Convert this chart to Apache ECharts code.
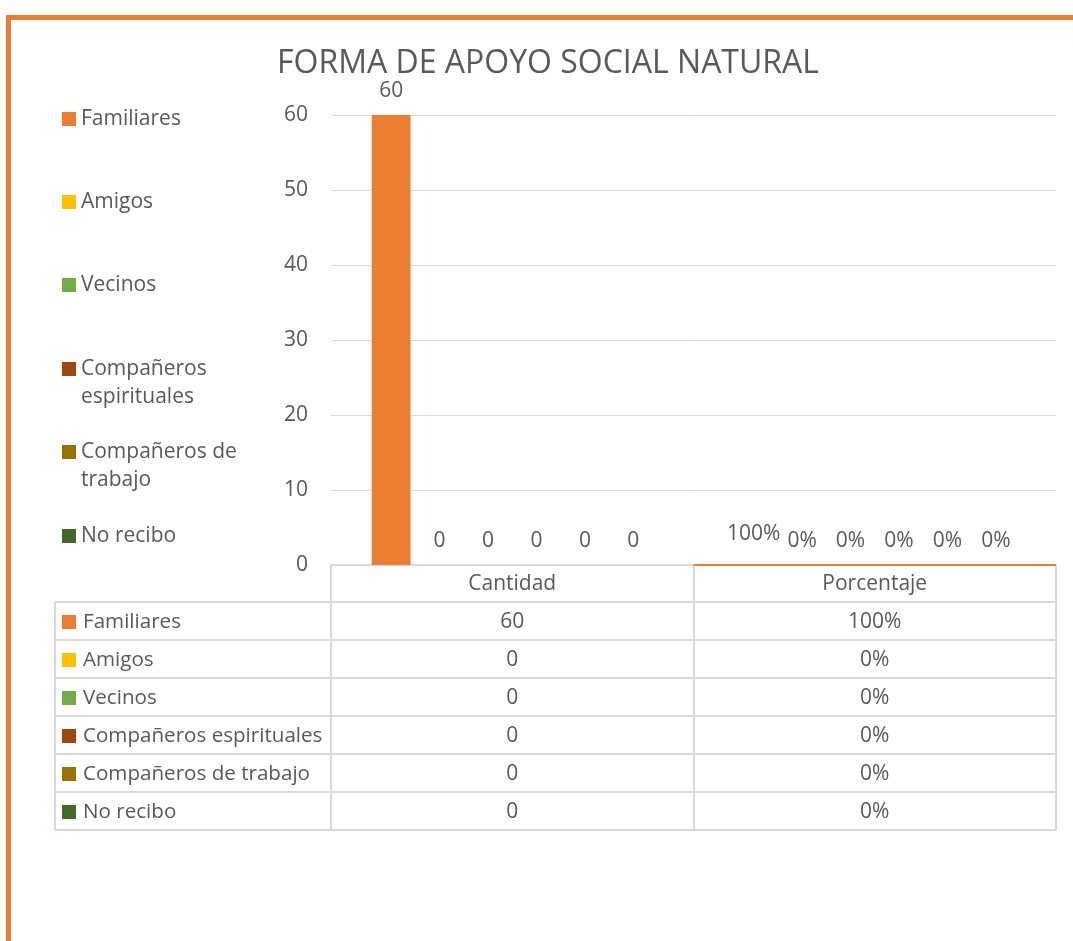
<!DOCTYPE html>
<html>
<head>
<meta charset="utf-8">
<script src="https://cdn.jsdelivr.net/npm/echarts@6/dist/echarts.min.js"></script>
<style>
html,body{margin:0;padding:0;background:#fff;}
#chart{width:1073px;height:941px;}
</style>
</head>
<body>
<div id="chart"></div>
<script>
// ---- data ----
const titleText = 'FORMA DE APOYO SOCIAL NATURAL';
const categories = ['Cantidad', 'Porcentaje'];
const seriesNames = ['Familiares', 'Amigos', 'Vecinos', 'Compañeros espirituales', 'Compañeros de trabajo', 'No recibo'];
const cantidad = [60, 0, 0, 0, 0, 0];
const porcentaje = [1, 0, 0, 0, 0, 0];
const yMin = 0, yMax = 60, yInterval = 10;

// ---- style ----
const colors = ['#ED7D31', '#FFC000', '#70AD47', '#9E480E', '#997300', '#43682B'];
const textColor = '#595959';
const gridLineColor = '#D9D9D9';
const FONT = 'Open Sans';
const FS = 21;

const W = 1073, H = 941;
const gridLeft = 331, gridRight = 1056, gridTop = 115, gridBottom = 565;
const headerH = 37, rowH = 38, tableLeft = 55;

const fmtPct = v => Math.round(v * 100) + '%';

const chart = echarts.init(document.getElementById('chart'), null, {renderer: 'canvas'});

// icon for two-line legend entries: square aligned with the first text line
const topSquareIcon = 'path://M0,0H14V14H0Z M0,41.95H0.05V42H0Z';

const legendTops = [119, 202, 285, 383, 466, 536];
const legends = seriesNames.map((n, i) => {
  const two = i === 3 || i === 4;
  return {
    data: [n],
    orient: 'vertical',
    left: 62,
    top: legendTops[i] - (two ? 28 : 14),
    padding: 0,
    icon: two ? topSquareIcon : 'rect',
    itemWidth: 14,
    itemHeight: two ? 42 : 14,
    selectedMode: false,
    textStyle: {fontFamily: FONT, fontSize: FS, color: textColor, lineHeight: 28, width: 180, overflow: 'break'}
  };
});

const series = seriesNames.map((n, i) => ({
  name: n,
  type: 'bar',
  barGap: '25%',
  barCategoryGap: '22.5%',
  itemStyle: {color: colors[i]},
  data: [
    cantidad[i],
    // the 100% bar is not visible in the reference (only its label)
    (i === 0 ? {value: porcentaje[i], itemStyle: {color: 'rgba(0,0,0,0)'}} : porcentaje[i])
  ],
  label: {
    show: true,
    position: 'top',
    distance: 13,
    fontFamily: FONT,
    fontSize: FS,
    color: textColor,
    formatter: p => p.dataIndex === 1 ? fmtPct(p.value) : String(p.value)
  }
}));

const option = {
  animation: false,
  backgroundColor: '#fff',
  color: colors,
  title: {
    text: titleText,
    left: 543, textAlign: 'center',
    top: 43,
    textStyle: {fontFamily: FONT, fontSize: 32, fontWeight: 'normal', color: textColor}
  },
  legend: legends,
  grid: {left: gridLeft, right: W - gridRight, top: gridTop, bottom: H - gridBottom, containLabel: false},
  xAxis: {
    type: 'category',
    data: categories,
    axisLine: {show: true, lineStyle: {color: gridLineColor, width: 2}},
    axisTick: {show: true, inside: false, length: headerH + rowH * seriesNames.length, lineStyle: {color: gridLineColor, width: 2}},
    axisLabel: {fontFamily: FONT, fontSize: FS, color: textColor, margin: 8, lineHeight: 22}
  },
  yAxis: {
    type: 'value',
    min: yMin, max: yMax, interval: yInterval,
    axisLine: {show: false},
    axisTick: {show: false},
    axisLabel: {fontFamily: FONT, fontSize: FS, color: textColor, margin: 23},
    splitLine: {lineStyle: {color: gridLineColor, width: 1}}
  },
  series: series
};
chart.setOption(option);

// ---- frame, orange baseline and data table (built from the data arrays) ----
function buildGraphics() {
  const g = [];
  g.push({type: 'rect', shape: {x: 6, y: 15, width: W - 6, height: 5}, style: {fill: '#ED7D31'}, silent: true});
  g.push({type: 'rect', shape: {x: 6, y: 15, width: 5, height: H - 15}, style: {fill: '#ED7D31'}, silent: true});

  const colCenters = categories.map(c => chart.convertToPixel({xAxisIndex: 0}, c));
  const half = (colCenters[1] - colCenters[0]) / 2;
  const y0 = chart.convertToPixel({yAxisIndex: 0}, 0);
  g.push({type: 'line', shape: {x1: colCenters[1] - half, y1: y0, x2: colCenters[1] + half, y2: y0},
    style: {stroke: '#ED7D31', lineWidth: 2}, z: 10, silent: true});

  const tableTop = y0 + headerH;
  const tableRight = colCenters[1] + half;
  for (let r = 0; r <= seriesNames.length; r++) {
    const y = tableTop + r * rowH;
    g.push({type: 'line', shape: {x1: tableLeft, y1: y, x2: tableRight, y2: y},
      style: {stroke: gridLineColor, lineWidth: 2}, silent: true});
  }
  g.push({type: 'line', shape: {x1: tableLeft, y1: tableTop, x2: tableLeft, y2: tableTop + rowH * seriesNames.length},
    style: {stroke: gridLineColor, lineWidth: 2}, silent: true});

  seriesNames.forEach((n, i) => {
    const cy = tableTop + i * rowH + rowH / 2 + 1;
    g.push({type: 'rect', shape: {x: tableLeft + 7, y: cy - 7, width: 14, height: 14}, style: {fill: colors[i]}, silent: true});
    g.push({type: 'text', x: tableLeft + 28, y: cy, style: {text: n, fontFamily: FONT, fontSize: 20.6, fill: textColor, verticalAlign: 'middle', align: 'left'}, silent: true});
    g.push({type: 'text', x: colCenters[0], y: cy, style: {text: String(cantidad[i]), fontFamily: FONT, fontSize: FS, fill: textColor, verticalAlign: 'middle', align: 'center'}, silent: true});
    g.push({type: 'text', x: colCenters[1], y: cy, style: {text: fmtPct(porcentaje[i]), fontFamily: FONT, fontSize: FS, fill: textColor, verticalAlign: 'middle', align: 'center'}, silent: true});
  });
  chart.setOption({graphic: g});
}
buildGraphics();
</script>
</body>
</html>
